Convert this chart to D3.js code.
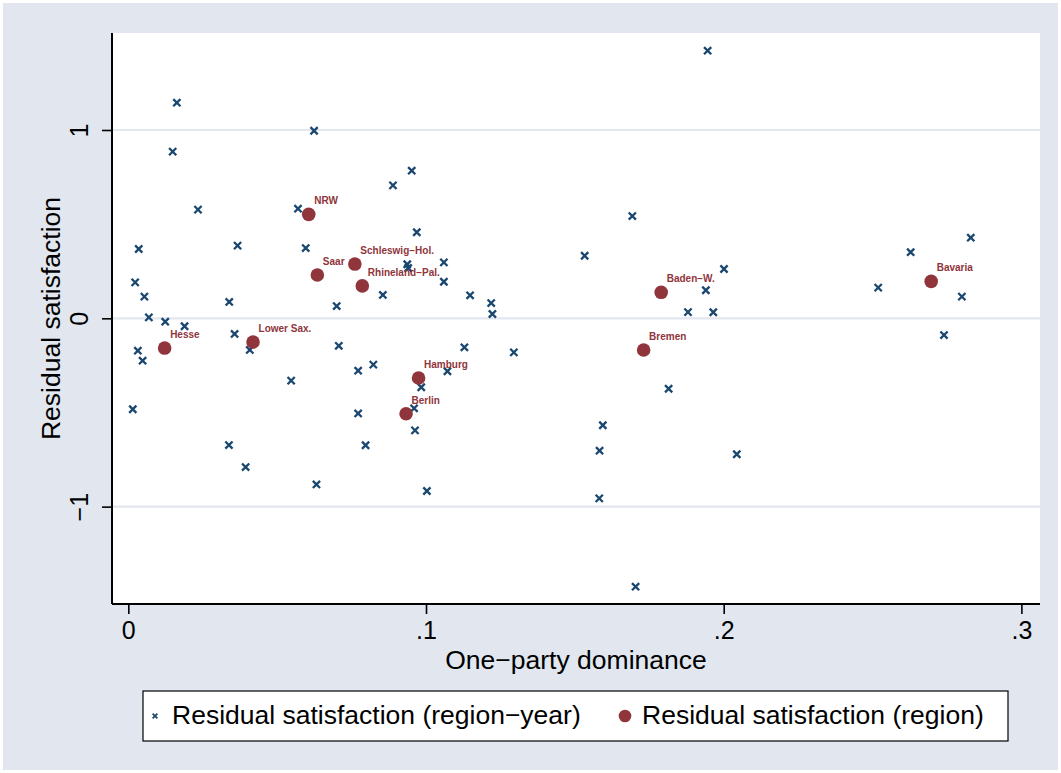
<!DOCTYPE html>
<html>
<head>
<meta charset="utf-8">
<script src="https://cdn.jsdelivr.net/npm/d3@7"></script>
<style>
  html, body { margin: 0; padding: 0; background: #ffffff; }
  svg { display: block; font-family: "Liberation Sans", Arial, Helvetica, sans-serif; }
</style>
</head>
<body>
<svg id="chart" width="1061" height="773"></svg>
<script>
// ---- Data ----
// region-year residuals: one-party dominance (x) and residual satisfaction (y)
const regionYearX = [0.0163, 0.0624, 0.0149, 0.0952, 0.0889, 0.0234, 0.0570, 0.0969, 0.0035, 0.0367,
                     0.0596, 0.0937, 0.0940, 0.1060, 0.1060, 0.0023, 0.0054, 0.0339, 0.0700, 0.0855,
                     0.0069, 0.0124, 0.0189, 0.0357, 0.0707, 0.0032, 0.0048, 0.0408, 0.0772, 0.0823,
                     0.0547, 0.0984, 0.1072, 0.0015, 0.0960, 0.0772, 0.0963, 0.0338, 0.0797, 0.0394,
                     0.0632, 0.1003, 0.1946, 0.1693, 0.1533, 0.2001, 0.1940, 0.1148, 0.1219, 0.1223,
                     0.1880, 0.1965, 0.1129, 0.1295, 0.1815, 0.1594, 0.1583, 0.2044, 0.1582, 0.1704,
                     0.2830, 0.2628, 0.2519, 0.2800, 0.2740];
const regionYearY = [1.145, 0.996, 0.885, 0.784, 0.706, 0.577, 0.582, 0.457, 0.368, 0.386,
                     0.373, 0.287, 0.267, 0.297, 0.194, 0.191, 0.115, 0.087, 0.065, 0.124,
                     0.005, -0.018, -0.042, -0.083, -0.146, -0.172, -0.225, -0.168, -0.278, -0.246,
                     -0.331, -0.366, -0.281, -0.483, -0.478, -0.505, -0.595, -0.673, -0.674, -0.790,
                     -0.882, -0.917, 1.421, 0.543, 0.332, 0.262, 0.149, 0.122, 0.081, 0.023,
                     0.033, 0.032, -0.154, -0.181, -0.374, -0.568, -0.703, -0.722, -0.956, -1.425,
                     0.428, 0.351, 0.163, 0.115, -0.089];

// region averages
const regionNames = ["NRW", "Saar", "Schleswig−Hol.", "Rhineland−Pal.", "Hesse", "Lower Sax.",
                     "Hamburg", "Berlin", "Baden−W.", "Bremen", "Bavaria"];
const regionX = [0.0606, 0.0635, 0.0761, 0.0786, 0.0122, 0.0419, 0.0975, 0.0933, 0.1790, 0.1731, 0.2697];
const regionY = [0.552, 0.230, 0.288, 0.172, -0.158, -0.126, -0.317, -0.507, 0.138, -0.168, 0.196];

const xTickValues = [0, 0.1, 0.2, 0.3];
const xTickLabels = ["0", ".1", ".2", ".3"];
const yTickValues = [-1, 0, 1];
const yTickLabels = ["−1", "0", "1"];

const xTitle = "One−party dominance";
const yTitle = "Residual satisfaction";
const legendLabels = ["Residual satisfaction (region−year)", "Residual satisfaction (region)"];

// ---- Styles ----
const bg = "#e1e6ef";
const navy = "#1a476f";
const maroon = "#90353b";

const svg = d3.select("#chart");
const W = 1061, H = 773;
const plot = { left: 112, right: 1040, top: 33, bottom: 604 };

svg.append("rect").attr("x", 0).attr("y", 0).attr("width", W).attr("height", H).attr("fill", "#ffffff");
svg.append("rect").attr("x", 3).attr("y", 3).attr("width", W - 6).attr("height", H - 6).attr("fill", bg);

const x = d3.scaleLinear().domain([-0.00548, 0.30625]).range([plot.left, plot.right]);
const y = d3.scaleLinear().domain([-1.517, 1.515]).range([plot.bottom, plot.top]);

// plot region
svg.append("rect")
  .attr("x", plot.left).attr("y", plot.top)
  .attr("width", plot.right - plot.left).attr("height", plot.bottom - plot.top)
  .attr("fill", "#ffffff");

// gridlines
svg.append("g").selectAll("line").data(yTickValues).join("line")
  .attr("x1", plot.left).attr("x2", plot.right)
  .attr("y1", d => y(d)).attr("y2", d => y(d))
  .attr("stroke", bg).attr("stroke-width", 2.2);

// axes
const xAxis = d3.axisBottom(x).tickValues(xTickValues)
  .tickFormat((d, i) => xTickLabels[i]).tickSize(10).tickSizeOuter(0).tickPadding(7);
const gx = svg.append("g").attr("transform", `translate(0,${plot.bottom})`).call(xAxis);
gx.select(".domain").attr("stroke", "#000").attr("stroke-width", 2)
  .attr("d", `M${plot.left},0H${plot.right}`);
gx.selectAll(".tick line").attr("stroke", "#000").attr("stroke-width", 1.6);
gx.selectAll(".tick text").attr("font-size", 25).attr("fill", "#000")
  .attr("font-family", "Liberation Sans, Arial, sans-serif");

const yAxis = d3.axisLeft(y).tickValues(yTickValues)
  .tickFormat((d, i) => yTickLabels[i]).tickSize(10).tickSizeOuter(0).tickPadding(0);
const gy = svg.append("g").attr("transform", `translate(${plot.left},0)`).call(yAxis);
gy.select(".domain").attr("stroke", "#000").attr("stroke-width", 2)
  .attr("d", `M0,${plot.top}V${plot.bottom}`);
gy.selectAll(".tick line").attr("stroke", "#000").attr("stroke-width", 1.6);
gy.selectAll(".tick text")
  .attr("font-size", 25).attr("fill", "#000")
  .attr("font-family", "Liberation Sans, Arial, sans-serif")
  .attr("x", null).attr("dy", null)
  .attr("text-anchor", "middle")
  .attr("transform", "translate(-24,0) rotate(-90)");

// axis titles
svg.append("text")
  .attr("x", (plot.left + plot.right) / 2).attr("y", 669)
  .attr("text-anchor", "middle").attr("font-size", 26.5).attr("fill", "#000")
  .text(xTitle);
svg.append("text")
  .attr("transform", `translate(60,${(plot.top + plot.bottom) / 2}) rotate(-90)`)
  .attr("text-anchor", "middle").attr("font-size", 26.5).attr("fill", "#000")
  .text(yTitle);

// region-year x markers
const xm = 3.6;
const ryData = regionYearX.map((v, i) => ({ x: v, y: regionYearY[i] }));
svg.append("g").selectAll("path").data(ryData).join("path")
  .attr("transform", d => `translate(${x(d.x)},${y(d.y)})`)
  .attr("d", `M${-xm},${-xm}L${xm},${xm}M${-xm},${xm}L${xm},${-xm}`)
  .attr("stroke", navy).attr("stroke-width", 2.3).attr("fill", "none");

// region circles with labels
const rData = regionX.map((v, i) => ({ x: v, y: regionY[i], name: regionNames[i] }));
svg.append("g").selectAll("circle").data(rData).join("circle")
  .attr("cx", d => x(d.x)).attr("cy", d => y(d.y)).attr("r", 6.8)
  .attr("fill", maroon);
svg.append("g").selectAll("text").data(rData).join("text")
  .attr("x", d => x(d.x) + 5.5).attr("y", d => y(d.y) - 10)
  .attr("font-size", 10).attr("fill", maroon).attr("font-weight", "bold")
  .text(d => d.name);

// legend
const lg = svg.append("g");
lg.append("rect").attr("x", 143).attr("y", 691).attr("width", 865).attr("height", 50)
  .attr("fill", "#fff").attr("stroke", "#000").attr("stroke-width", 1.2);
const lm = 2.4;
lg.append("path")
  .attr("transform", "translate(155,716)")
  .attr("d", `M${-lm},${-lm}L${lm},${lm}M${-lm},${lm}L${lm},${-lm}`)
  .attr("stroke", navy).attr("stroke-width", 1.7);
lg.append("text").attr("x", 172).attr("y", 724).attr("font-size", 26.5).attr("fill", "#000").text(legendLabels[0]);
lg.append("circle").attr("cx", 625).attr("cy", 716).attr("r", 6.3).attr("fill", maroon);
lg.append("text").attr("x", 642).attr("y", 724).attr("font-size", 26.5).attr("fill", "#000").text(legendLabels[1]);
</script>
</body>
</html>
